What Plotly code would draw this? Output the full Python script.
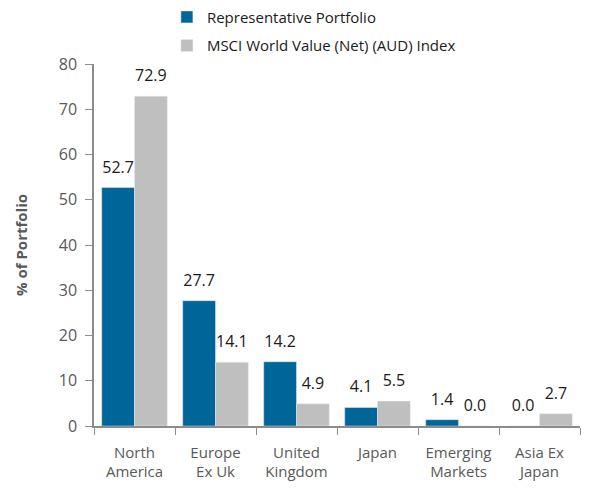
import plotly.graph_objects as go

categories = ["North<br>America", "Europe<br>Ex Uk", "United<br>Kingdom", "Japan",
              "Emerging<br>Markets", "Asia Ex<br>Japan"]
portfolio = [52.7, 27.7, 14.2, 4.1, 1.4, 0.0]
index = [72.9, 14.1, 4.9, 5.5, 0.0, 2.7]

series = [
    ("Representative Portfolio", portfolio, "#006699"),
    ("MSCI World Value (Net) (AUD) Index", index, "#BFBFBF"),
]

font_family = "Open Sans, Noto Sans, sans-serif"

fig = go.Figure()
for name, vals, color in series:
    fig.add_trace(go.Bar(
        x=categories, y=vals, name=name, marker_color=color,
        legendgroup=name, offsetgroup=name,
    ))
# value labels, offset above the bars by an invisible marker
for name, vals, color in series:
    fig.add_trace(go.Scatter(
        x=categories, y=vals, mode="markers+text", showlegend=False,
        offsetgroup=name, hoverinfo="skip",
        marker=dict(size=16, opacity=0),
        text=[f"{v:.1f}" for v in vals], textposition="top center",
        textfont=dict(size=16, color="#1a1a1a"), cliponaxis=False,
    ))

# page body has an 8px margin, so margins are trimmed on the left/top
fig.update_layout(
    width=589,
    height=490,
    margin=dict(l=86, r=17, t=56, b=72, autoexpand=False),
    paper_bgcolor="white",
    plot_bgcolor="white",
    font=dict(family=font_family, color="#595959", size=15),
    barmode="group",
    scattermode="group",
    bargap=0.19,
    bargroupgap=0,
    scattergap=0.19,
    showlegend=True,
    legend=dict(
        x=0.15, y=1.175, xanchor="left", yanchor="top",
        font=dict(size=15, color="#1a1a1a"),
        itemwidth=30, tracegroupgap=6, traceorder="grouped",
        bgcolor="rgba(0,0,0,0)",
    ),
)
fig.update_xaxes(
    showline=True, linecolor="#8c8c8c", linewidth=1.5,
    ticks="outside", tickson="boundaries", ticklen=7, tickcolor="#8c8c8c",
    tickfont=dict(size=15, color="#595959"), ticklabelstandoff=12,
    showgrid=False,
)
fig.update_yaxes(
    range=[0, 80], dtick=10,
    showline=True, linecolor="#8c8c8c", linewidth=1.5,
    ticks="outside", ticklen=7, tickcolor="#8c8c8c",
    tickfont=dict(size=16, color="#595959"), ticklabelstandoff=5,
    showgrid=False, zeroline=False,
    title=dict(text="<b>% of Portfolio</b>", font=dict(size=15, color="#595959"), standoff=28),
)

fig.write_html("out.html")
